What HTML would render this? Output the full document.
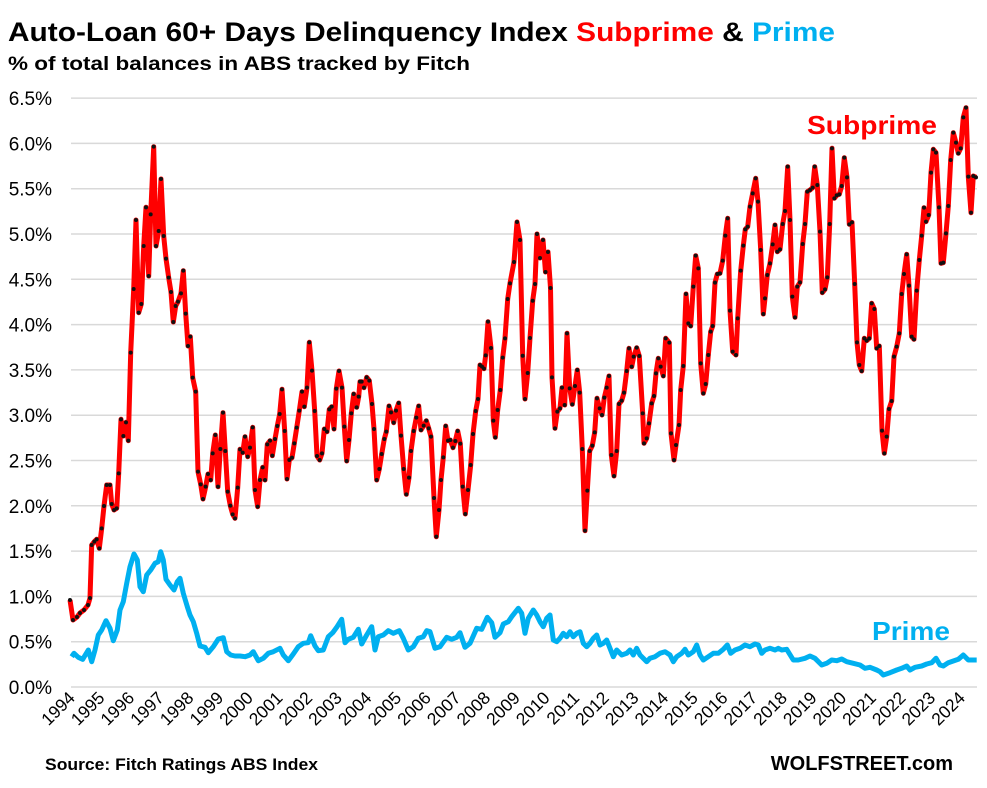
<!DOCTYPE html>
<html><head><meta charset="utf-8"><style>
body{margin:0;background:#fff;}
svg{display:block;font-family:"Liberation Sans",sans-serif;}
</style></head><body>
<svg id="c" width="987" height="788" viewBox="0 0 987 788">
<rect width="987" height="788" fill="#fff"/>
<text x="8" y="41" font-size="27" font-weight="bold" fill="#000" textLength="827" lengthAdjust="spacingAndGlyphs">Auto-Loan 60+ Days Delinquency Index <tspan fill="#ff0000">Subprime</tspan> &amp; <tspan fill="#00b0f0">Prime</tspan></text>
<text x="8" y="70" font-size="19" font-weight="bold" fill="#000" textLength="462" lengthAdjust="spacingAndGlyphs">% of total balances in ABS tracked by Fitch</text>
<g id="grid"></g>
<g id="ylab" font-size="19" fill="#000" text-anchor="end"></g>
<g id="xlab" font-size="17.5" fill="#000" text-anchor="end"></g>
<polyline id="prime" fill="none" stroke="#00b0f0" stroke-width="5" stroke-linejoin="round"/>
<polyline id="sub" fill="none" stroke="#ff0000" stroke-width="5" stroke-linejoin="round"/>
<g id="dots" fill="#111"></g>
<text x="807" y="134" font-size="26" font-weight="bold" fill="#ff0000" textLength="130" lengthAdjust="spacingAndGlyphs">Subprime</text>
<text x="872" y="640" font-size="26" font-weight="bold" fill="#00b0f0" textLength="78" lengthAdjust="spacingAndGlyphs">Prime</text>
<text x="45" y="770" font-size="17" font-weight="bold" fill="#000" textLength="273" lengthAdjust="spacingAndGlyphs">Source: Fitch Ratings ABS Index</text>
<text x="953" y="770" font-size="20" font-weight="bold" fill="#000" text-anchor="end">WOLFSTREET.com</text>
</svg>
<script>
var ns="http://www.w3.org/2000/svg";
function el(t,a,p){var e=document.createElementNS(ns,t);for(var k in a)e.setAttribute(k,a[k]);if(p)p.appendChild(e);return e;}
var g=document.getElementById('grid'),yl=document.getElementById('ylab'),xl=document.getElementById('xlab');
for(var i=0;i<=13;i++){var y=687-i*45.3;el('line',{x1:71,x2:977,y1:y,y2:y,stroke:'#d9d9d9','stroke-width':1.5},g);
var t=el('text',{x:52,y:y+7},yl);t.textContent=(i*0.5).toFixed(1)+'%';}
for(var j=0;j<=30;j++){var x=76+j*29.67;var t=el('text',{x:x,y:699,transform:'rotate(-45 '+x+' 699)'},xl);t.textContent=1994+j;}
var S=[[70,600],[73,620],[77,617],[80,613],[84,610],[88,605],[90,598]];
function add(arr,ox,oy,dst,xmin,xmax){for(var i=0;i<arr.length;i+=2){var x=ox+arr[i]/3,y=oy+arr[i+1]/3;if(x>xmin&&x<=xmax)dst.push([x,y]);}}
add([95,1245,103,1235,110,1228,118,1255,125,1195,132,1128,140,1065,150,1065,155,1122,162,1140,170,1135,176,1030,183,868,190,918,198,877,205,932,212,668,221,477,228,270,236,548,244,522,251,348,258,232,266,438,272,253,281,50,288,348,296,303,303,147,311,318,318,386,326,443,333,486,340,576,347,528,354,515,363,490,370,422,377,551,384,648,391,620,398,743,407,785,414,1025,422,1063,429,1107,437,1070,444,1032,452,1050,458,970,466,915,474,1070,481,957,489,848,496,963,503,1085,511,1127,518,1153,525,1165,533,1073,540,958,548,968,555,920,563,980,570,953,578,892,585,1080,593,1130,600,1050,608,1012,615,1050,622,943,630,932,637,977,645,927,652,888,659,852,666,778,674,903,681,1047,688,990,696,983,703,940,710,893,718,842,726,785,733,830,741,773,748,637,756,722,764,843,771,978,779,990,786,970,793,897,801,905,808,838,815,830,822,897,829,776,837,723,846,773,853,890,860,993,867,930,874,850,881,792,890,832,896,800,900,755],60,130,S,90,361);
add([65,335,72,353,80,322,88,332,96,402,102,477,110,630,118,597,125,552,133,507,139,485,147,408,153,427,161,458,168,422,176,399,183,497,191,597,199,673,207,623,213,543,221,483,229,443,236,408,243,480,251,467,259,452,266,475,273,500,282,684,289,800,297,720,303,630,310,562,317,468,324,512,331,510,339,533,346,513,353,483,361,521,368,650,376,732,384,660,392,585,399,492,407,423,414,387,420,285,426,290,432,296,437,256,444,155,453,234,460,452,466,502,473,420,481,360,488,263,495,205,503,87,510,40],340,270,S,361,513);
S.push([514,262],[517,222],[520,240],[522.7,355.7],[525,399],[527.7,373],[530,338],[532.7,300.7],[535,284],[537,234],[540,258],[543,240],[545.5,272],[548,252],[550.5,288]);
add([636,322,645,475,652,425,660,415,666,353,674,405,681,190,689,355,697,403,705,348,712,300,719,368,727,537,735,782,742,662,749,543,757,527,764,487,771,385,779,415,786,435,793,383,800,353,807,318,814,555,822,618,830,543,837,402,845,392,852,368,860,303,867,235,875,290,881,260,890,233,898,258],340,270,S,551,640);
add([8,970,12,1060,20,1045,27,1000,35,940,42,918,48,850,55,805,62,830,70,858,77,745,88,758,93,1030,102,1110,108,1065,117,1005,122,900,130,828,138,612,145,700,152,708,160,590,167,497,175,535,182,820,190,910,197,882,205,795,212,725,218,708,225,578,232,552,240,550,248,512,256,437,263,385,270,662,278,785,288,795,293,685,302,542,310,467,316,418,323,410,330,350,338,310,347,265,354,335,362,480,370,672,375,625,382,555,390,520,398,463,405,405,412,485,420,478,428,402,435,363,443,230,450,390,457,620,465,682,472,590,480,577,488,462,495,402,502,305,510,300,518,293,524,230,532,285,540,425,547,608,555,598,562,562,569,402,576,175,583,325,590,316,598,313,605,288,613,203,621,262,628,403,636,397,644,582,651,757,658,825,665,843,673,745,680,752,688,745,695,640,703,657,710,775,718,768,726,1022,733,1090,740,1040,747,957,755,933,762,800,770,770,778,730,785,612,792,552,800,493,807,587,815,740,822,748,830,602,838,510,845,437,852,353,858,395,866,375,873,248,880,178,888,188,897,352,903,520,910,518,918,430,925,348,932,210,940,128,948,158,955,190,962,175,970,82,978,53,985,260,993,368,1000,258,1008,262],640,90,S,640,990);
var P=[];
add([35,350,42,340,55,352,68,358,85,330,95,365,105,330,115,285,125,270,138,242,150,265,160,302,172,270,180,210,190,185,200,130,210,80,222,42,232,60,240,140,250,155,260,105,272,90,285,70,295,65,302,35,310,60,318,118,330,135,342,150,352,125,360,115,370,160,382,200,390,225,400,245,410,280,420,318,435,322,445,338,460,320,475,297,490,293,500,335,512,345,525,348,540,348,555,350,570,345,580,335,595,362,610,355,625,340,640,335,660,325,670,345,685,362,700,342,715,320,730,310,745,308,752,287,765,318,775,332,790,330,805,290,818,278,830,262,845,238,855,308,865,298,880,292,895,268,905,312,920,285,935,260,945,330,955,290,970,285,985,272,1000,280,1018,272,1030,295,1045,330,1060,320,1075,295,1090,290,1100,272,1110,275,1125,325,1140,320,1160,292,1175,298,1190,292,1200,278,1215,322,1230,310,1250,265,1265,268,1282,232,1295,248,1305,292,1320,278,1330,252,1345,245,1355,235,1365,210,1378,200],60,540,P,0,511);
add([5,80,25,55,35,70,45,130,55,85,70,60,80,75,90,95,100,110,110,85,120,75,130,150,140,155,150,145,160,130,170,140,180,125,190,140,200,130,210,125,220,160,230,170,240,160,250,145,260,135,270,165,280,160,290,150,300,175,310,200,320,180,335,195,350,190,360,180,370,195,380,175,390,195,410,215,420,205,435,200,450,190,465,185,480,195,490,215,500,200,515,190,525,178,535,195,550,185,560,165,570,195,580,210,595,200,610,190,625,190,640,178,652,165,662,190,675,180,690,175,705,165,720,170,735,162,745,165,755,190,765,180,780,175,795,180,805,175,815,180,830,178,850,210,865,210,885,205,900,198,915,205,935,225,950,220,965,210,980,212,995,207,1010,215,1030,220,1050,225,1065,235,1080,232,1100,240,1110,245,1120,255,1140,248,1160,240,1175,235,1190,228,1200,240,1215,232,1235,228,1250,222,1265,218,1278,205,1290,225,1300,228,1315,218,1330,213,1345,208,1360,195,1375,210,1385,210,1400,210],510,590,P,511,990);
function pts(a){return a.map(function(p){return p[0].toFixed(1)+','+p[1].toFixed(1)}).join(' ');}
document.getElementById('sub').setAttribute('points',pts(S));
document.getElementById('prime').setAttribute('points',pts(P));
var d=document.getElementById('dots');
S.forEach(function(p){el('circle',{cx:p[0],cy:p[1],r:2},d);});
</script>
</body></html>
